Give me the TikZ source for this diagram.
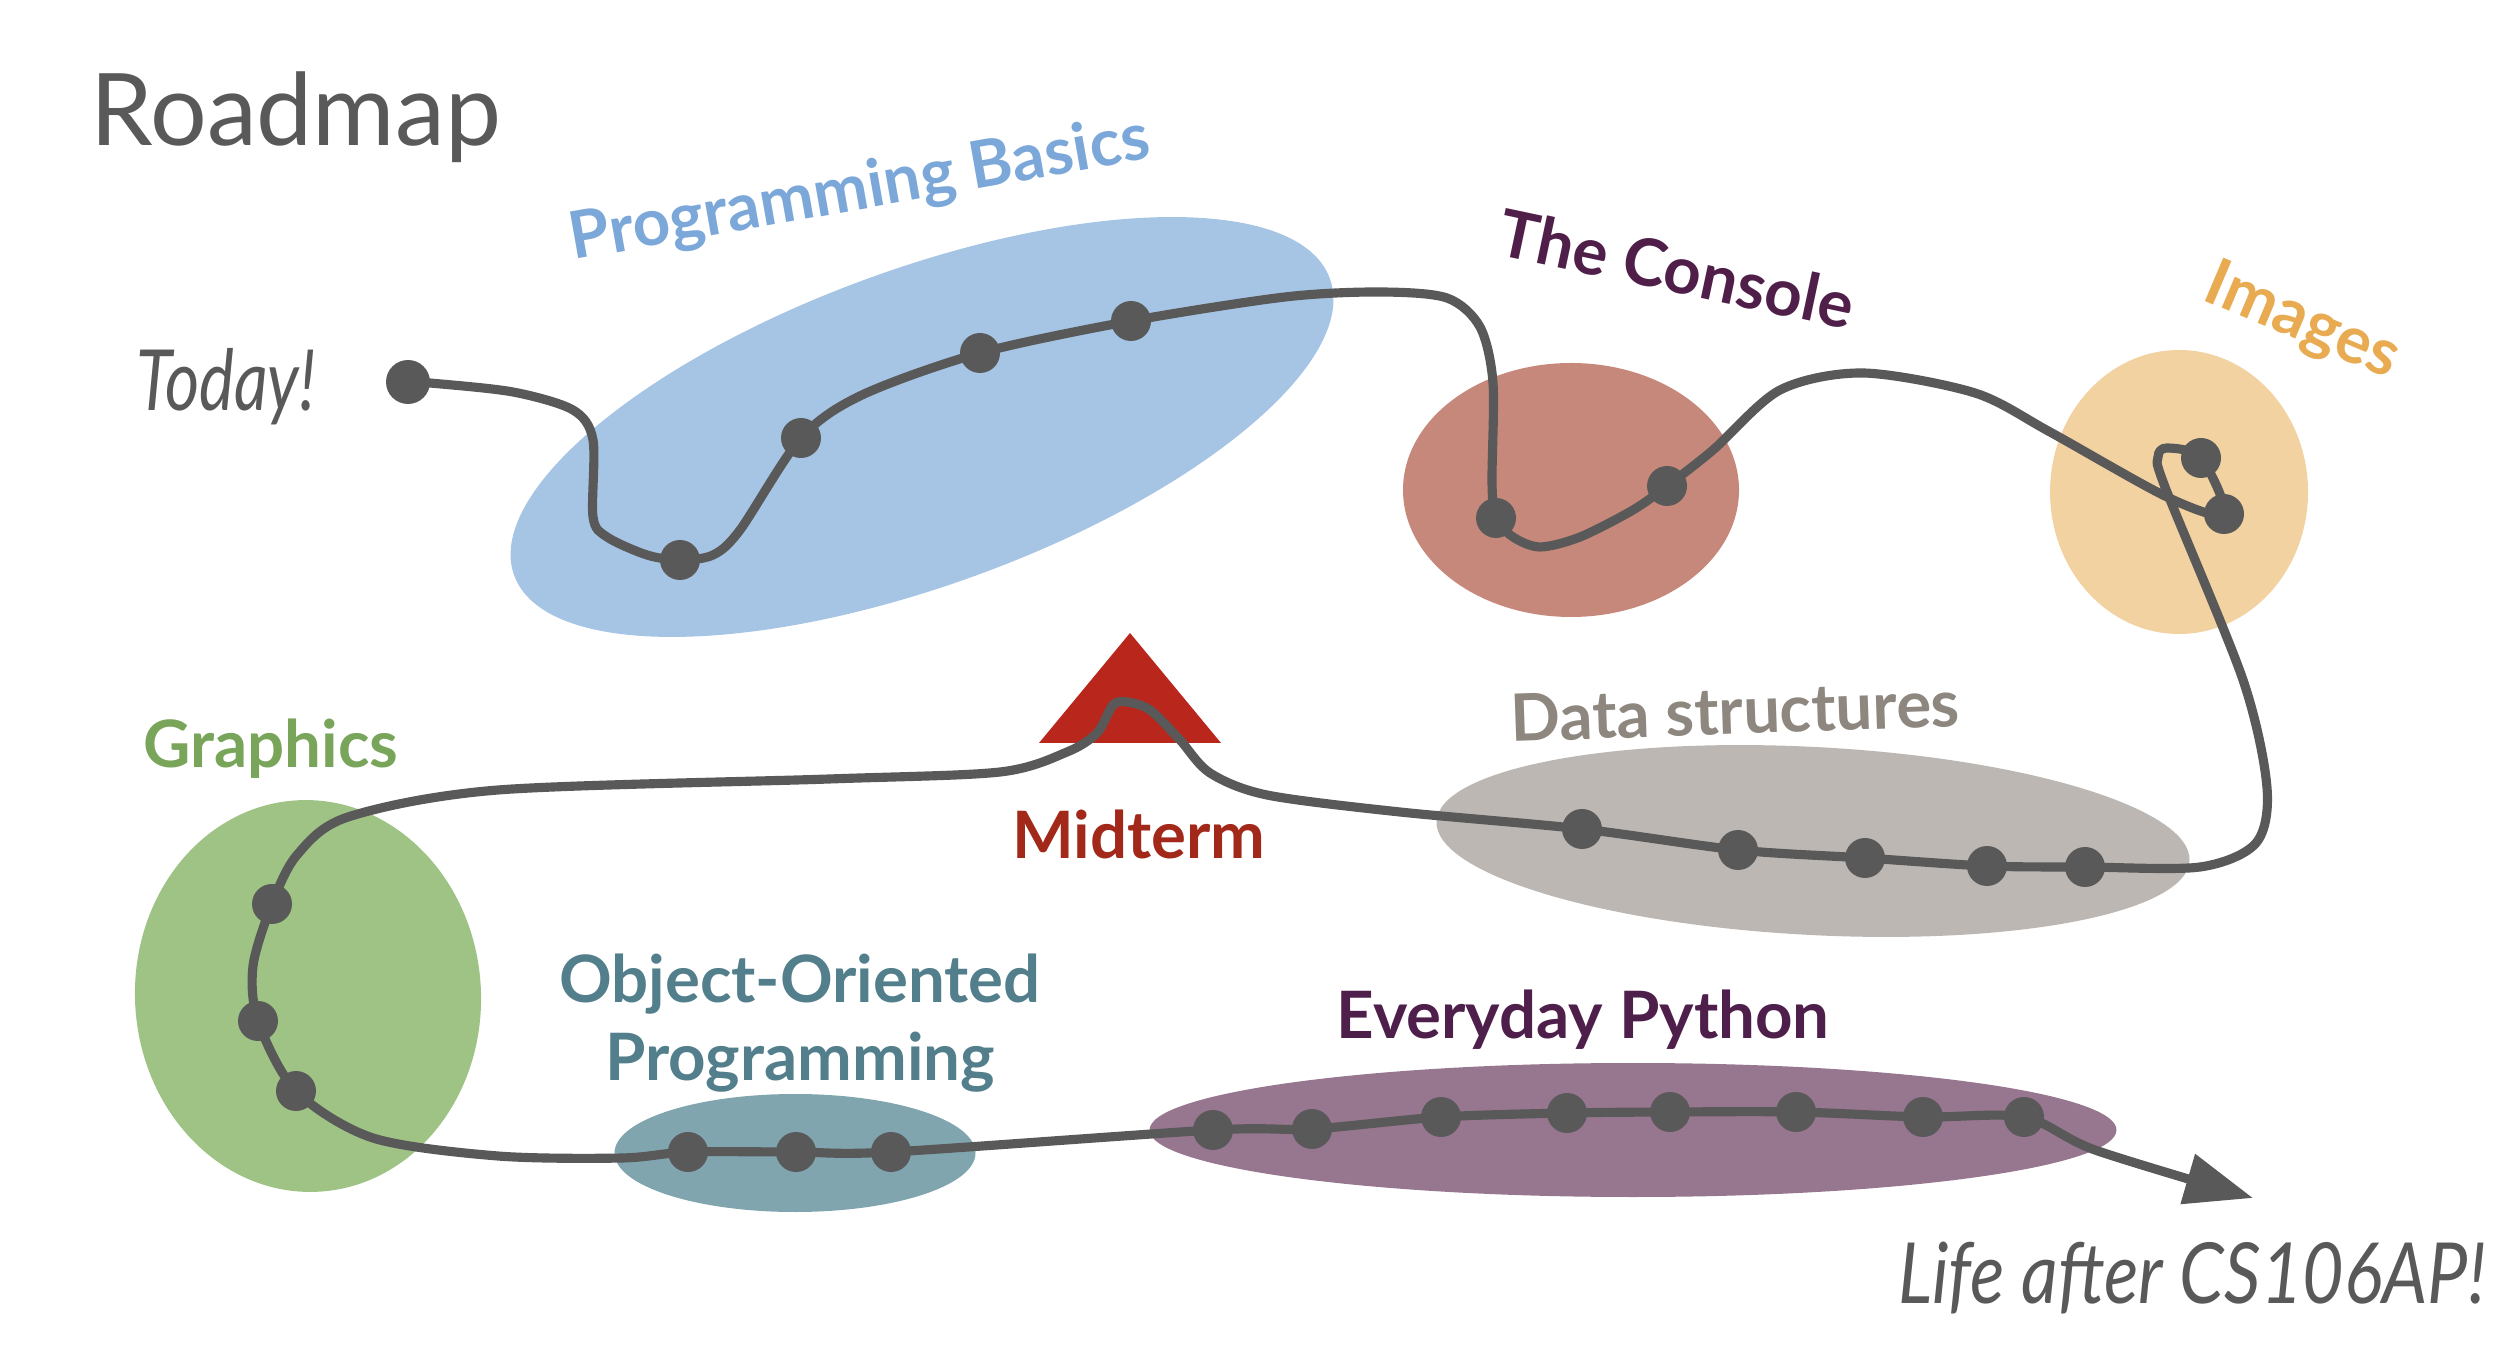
\documentclass[tikz,border=0pt]{standalone}
\usepackage{fontspec}
\setmainfont{Lato}
\usepackage{tikz}
\usetikzlibrary{shapes.geometric,arrows.meta}
\definecolor{roadgray}{HTML}{595959}
\definecolor{basicsfill}{HTML}{A6C5E4}
\definecolor{basicstext}{HTML}{7BA8D9}
\definecolor{consolefill}{HTML}{C7887C}
\definecolor{consoletext}{HTML}{4F1F4A}
\definecolor{imagesfill}{HTML}{F2D2A0}
\definecolor{imagestext}{HTML}{E8AB52}
\definecolor{datafill}{HTML}{BCB7B2}
\definecolor{datatext}{HTML}{8E8780}
\definecolor{graphicsfill}{HTML}{9FC385}
\definecolor{graphicstext}{HTML}{78A55A}
\definecolor{oopfill}{HTML}{80A5AE}
\definecolor{ooptext}{HTML}{527F8B}
\definecolor{everydayfill}{HTML}{97768F}
\definecolor{everydaytext}{HTML}{4F1F4B}
\definecolor{midtermred}{HTML}{B9261C}
\definecolor{midtermtext}{HTML}{A2281A}
\tikzset{%
    topic_blob/.style={%
        ellipse, inner sep=0pt, draw=none
    },
    topic_name/.style={%
        font=\fontsize{18.6}{22}\selectfont\bfseries, inner sep=0pt, align=center
    },
    road_stop/.style={%
        circle, fill=roadgray, inner sep=0pt, minimum size=4mm
    },
    road/.style={%
        draw=roadgray, line width=2.6pt, line cap=round, line join=round
    },
    scribble/.style={%
        font=\fontsize{24}{24}\selectfont\itshape, text=roadgray, inner sep=0pt
    },
}
\begin{document}
\begin{tikzpicture}[x=1cm,y=-1cm]
    \useasboundingbox (0,0) rectangle (25.18,13.58);

    \node[topic_blob, fill=basicsfill, minimum width=8.68cm, minimum height=3.16cm, rotate=20] (basics) at (9.22,4.27) {};
    \node[topic_blob, fill=consolefill, minimum width=3.36cm, minimum height=2.54cm] (console) at (15.71,4.90) {};
    \node[topic_blob, fill=imagesfill, minimum width=2.58cm, minimum height=2.84cm] (images) at (21.79,4.92) {};
    \node[topic_blob, fill=datafill, minimum width=7.54cm, minimum height=1.88cm, rotate=-3] (datastr) at (18.13,8.41) {};
    \node[topic_blob, fill=graphicsfill, minimum width=3.46cm, minimum height=3.92cm, rotate=3] (graphics) at (3.08,9.96) {};
    \node[topic_blob, fill=oopfill, minimum width=3.61cm, minimum height=1.18cm] (oop) at (7.95,11.53) {};
    \node[topic_blob, fill=everydayfill, minimum width=9.67cm, minimum height=1.34cm] (everyday) at (16.33,11.30) {};

    \fill[midtermred] (11.30,6.33) -- (12.21,7.43) -- (10.39,7.43) -- cycle;

    \node[anchor=base west, inner sep=0pt, text=roadgray, font=\fontsize{28.5}{28.5}\selectfont] (title) at (0.90,1.46) {Roadmap};
    \node[topic_name, text=basicstext, anchor=base, rotate=10] (basicsname) at (8.63,2.09) {Programming Basics};
    \node[topic_name, text=consoletext, anchor=base, rotate=-12] (consolename) at (16.72,2.92) {The Console};
    \node[topic_name, text=imagestext, anchor=base, rotate=-23] (imagesname) at (22.95,3.39) {Images};
    \node[topic_name, text=datatext, anchor=base, rotate=2] (dataname) at (17.36,7.34) {Data structures};
    \node[topic_name, text=graphicstext, anchor=base] (graphicsname) at (2.71,7.68) {Graphics};
    \node[topic_name, text=ooptext] (oopname) at (8.00,10.23) {Object-Oriented\\Programming};
    \node[topic_name, text=everydaytext, anchor=base] (everydayname) at (15.83,10.38) {Everyday Python};
    \node[topic_name, text=midtermtext, anchor=base] (midtermname) at (11.39,8.59) {Midterm};
    \node[scribble, anchor=base] (todayname) at (2.26,4.11) {\scalebox{0.78}[1]{Today!}};
    \node[scribble, anchor=base] (lifename) at (21.92,13.03) {\scalebox{0.85}[1]{Life after CS106AP!}};

    \node[road_stop, minimum size=4.4mm] (today) at (4.08,3.82) {};
    \node[road_stop] (pb1) at (6.80,5.60) {};
    \node[road_stop] (pb2) at (8.01,4.38) {};
    \node[road_stop] (pb3) at (9.80,3.53) {};
    \node[road_stop] (pb4) at (11.31,3.21) {};
    \node[road_stop] (con1) at (14.96,5.18) {};
    \node[road_stop] (con2) at (16.67,4.86) {};
    \node[road_stop] (img1) at (22.24,5.14) {};
    \node[road_stop] (img2) at (22.01,4.58) {};
    \node[road_stop] (ds5) at (20.85,8.67) {};
    \node[road_stop] (ds4) at (19.87,8.66) {};
    \node[road_stop] (ds3) at (18.65,8.58) {};
    \node[road_stop] (ds2) at (17.38,8.50) {};
    \node[road_stop] (ds1) at (15.82,8.29) {};
    \node[road_stop] (gr1) at (2.72,9.04) {};
    \node[road_stop] (gr2) at (2.58,10.21) {};
    \node[road_stop] (gr3) at (2.96,10.91) {};
    \node[road_stop] (oo1) at (6.88,11.52) {};
    \node[road_stop] (oo2) at (7.96,11.52) {};
    \node[road_stop] (oo3) at (8.91,11.52) {};
    \node[road_stop] (ep1) at (12.13,11.30) {};
    \node[road_stop] (ep2) at (13.12,11.29) {};
    \node[road_stop] (ep3) at (14.41,11.17) {};
    \node[road_stop] (ep4) at (15.67,11.13) {};
    \node[road_stop] (ep5) at (16.70,11.12) {};
    \node[road_stop] (ep6) at (17.96,11.12) {};
    \node[road_stop] (ep7) at (19.23,11.17) {};
    \node[road_stop] (ep8) at (20.24,11.17) {};
    \coordinate (finish) at (22.53,11.98);

    \draw[road, -{Triangle[length=6.8mm,width=5mm]}] plot[smooth, tension=0.5] coordinates {
      (today.center) (4.30,3.83) (5.13,3.92) (5.73,4.10) (5.93,4.40) (5.93,5.17) (6.07,5.37) (6.47,5.55) (pb1.center)
      (7.13,5.55) (7.40,5.30) (pb2.center) (8.62,3.95) (pb3.center) (pb4.center)
      (12.85,2.97) (13.80,2.92) (14.47,2.98) (14.80,3.27) (14.93,3.83) (14.92,4.83) (con1.center)
      (15.13,5.37) (15.40,5.47) (15.80,5.37) (16.33,5.10) (con2.center)
      (17.13,4.50) (17.80,3.90) (18.63,3.73) (19.75,3.93) (20.50,4.32) (21.67,4.97) (img1.center)
      (img2.center) (21.67,4.48) (21.58,4.57) (21.65,4.87) (22.43,6.80) (22.67,7.88) (22.56,8.43) (22.00,8.67)
      (ds5.center) (ds4.center) (ds3.center) (ds2.center) (ds1.center)
      (14.00,8.12) (12.67,7.95) (12.10,7.73) (11.80,7.40) (11.50,7.10) (11.27,7.02) (11.13,7.05) (10.97,7.33)
      (10.67,7.52) (10.00,7.72) (8.29,7.79) (4.98,7.90) (3.48,8.17) (2.97,8.55) (gr1.center) (2.53,9.66)
      (gr2.center) (gr3.center) (3.73,11.38) (4.98,11.56) (6.22,11.58) (oo1.center) (oo2.center) (oo3.center)
      (ep1.center) (ep2.center) (ep3.center) (ep4.center) (ep5.center) (ep6.center) (ep7.center) (ep8.center)
      (20.95,11.50) (finish)};
\end{tikzpicture}
\end{document}
